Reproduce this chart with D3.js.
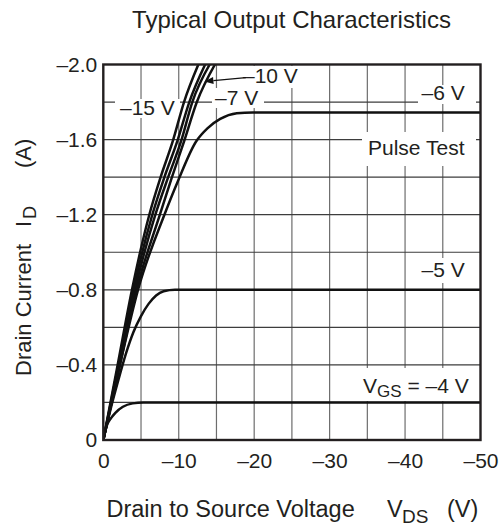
<!DOCTYPE html>
<html><head><meta charset="utf-8">
<script src="https://cdn.jsdelivr.net/npm/d3@7/dist/d3.min.js"></script>
<style>
html,body{margin:0;padding:0;background:#fff;}
svg{display:block;font-family:"Liberation Sans",Arial,Helvetica,sans-serif;}
</style></head>
<body><svg id="c" width="501" height="526"></svg>
<script>
// ---- data ----
const vdsTicks = [0, -10, -20, -30, -40, -50];
const vdsTickLabels = ["0", "–10", "–20", "–30", "–40", "–50"];
const idTicks = [0, -0.4, -0.8, -1.2, -1.6, -2.0];
const idTickLabels = ["0", "–0.4", "–0.8", "–1.2", "–1.6", "–2.0"];
const vdsGrid = [-5, -10, -15, -20, -25, -30, -35, -40, -45];
const idGrid = [-0.2, -0.4, -0.6, -0.8, -1.0, -1.2, -1.4, -1.6, -1.8];

// steep (ohmic) curves share these current points
const steepId = [0, -0.4, -0.8, -1.2, -1.4, -1.59, -1.8, -2.0];
const vdsVgs15 = [0, -1.9, -3.8, -6.1, -7.6, -9.2, -10.7, -12.6];
const vdsVgsB = [0, -2.0, -4.0, -6.5, -8.1, -9.8, -11.4, -13.5];
const vdsVgs10 = [0, -2.1, -4.2, -6.9, -8.6, -10.3, -11.8, -14.1];
const vdsVgs7 = [0, -2.2, -4.4, -7.5, -9.1, -10.7, -12.4, -14.8];

const vdsVgs6 = [0, -2.2, -4.6, -8.1, -9.9, -12.3, -13.8, -15.5, -17.7, -19.8, -50];
const idVgs6 = [0, -0.4, -0.8, -1.2, -1.38, -1.59, -1.66, -1.71, -1.74, -1.745, -1.745];

const vdsVgs5 = [0, -1, -2, -3, -4, -5, -6, -7, -8, -9.5, -50];
const idVgs5 = [0, -0.17, -0.32, -0.46, -0.575, -0.66, -0.725, -0.77, -0.792, -0.8, -0.8];

const vdsVgs4 = [0, -0.45, -1.0, -1.6, -2.6, -3.9, -5.3, -50];
const idVgs4 = [0, -0.075, -0.115, -0.145, -0.177, -0.195, -0.2, -0.2];

// ---- chart ----
const svg = d3.select("#c");
const L = 103.3, R = 480.5, T = 64.5, B = 440;
const x = d3.scaleLinear().domain([0, -50]).range([L, R]);
const y = d3.scaleLinear().domain([0, -2]).range([B, T]);
const ink = "#231f20";

svg.append("defs").append("clipPath").attr("id", "plot")
  .append("rect").attr("x", L).attr("y", T).attr("width", R - L).attr("height", B - T);

// grid
const g = svg.append("g");
g.selectAll(".vg").data(vdsGrid).join("line")
  .attr("x1", d => x(d)).attr("x2", d => x(d)).attr("y1", T).attr("y2", B)
  .attr("stroke", "#6d6d6d").attr("stroke-width", 1.2);
g.selectAll(".hg").data(idGrid).join("line")
  .attr("y1", d => y(d)).attr("y2", d => y(d)).attr("x1", L).attr("x2", R)
  .attr("stroke", "#3d3d3d").attr("stroke-width", 1.2);

// white label boxes (hide grid under annotations)
const boxes = [
  [115, 99, 65, 19], [212, 88, 52, 20], [241, 66, 64, 22],
  [418, 85, 58, 19], [362, 132, 114, 34], [418, 258, 58, 25], [358, 368, 118, 33]
];
svg.append("g").selectAll("rect").data(boxes).join("rect")
  .attr("x", d => d[0]).attr("y", d => d[1]).attr("width", d => d[2]).attr("height", d => d[3])
  .attr("fill", "#fff");

// curves
const line = d3.line().x(d => x(d[0])).y(d => y(d[1])).curve(d3.curveMonotoneX);
const curves = [
  d3.zip(vdsVgs15, steepId), d3.zip(vdsVgsB, steepId), d3.zip(vdsVgs10, steepId), d3.zip(vdsVgs7, steepId),
  d3.zip(vdsVgs6, idVgs6), d3.zip(vdsVgs5, idVgs5), d3.zip(vdsVgs4, idVgs4)
];
svg.append("g").attr("clip-path", "url(#plot)").selectAll("path").data(curves).join("path")
  .attr("d", line).attr("fill", "none").attr("stroke", "#111").attr("stroke-width", 2.5)
  .attr("stroke-linejoin", "round");

// border
svg.append("rect").attr("x", L).attr("y", T).attr("width", R - L).attr("height", B - T)
  .attr("fill", "none").attr("stroke", ink).attr("stroke-width", 2.4);

// axes (labels only)
const xa = svg.append("g").attr("transform", `translate(0,${B})`)
  .call(d3.axisBottom(x).tickValues(vdsTicks).tickSize(0).tickPadding(0)
    .tickFormat((d, i) => vdsTickLabels[i]));
xa.select(".domain").remove();
xa.selectAll("text").attr("y", 28).attr("dy", 0).attr("font-size", 21)
  .attr("fill", ink).attr("font-family", "Liberation Sans, Arial, sans-serif");

const ya = svg.append("g").attr("transform", `translate(${L},0)`)
  .call(d3.axisLeft(y).tickValues(idTicks).tickSize(0).tickPadding(6)
    .tickFormat((d, i) => idTickLabels[i]));
ya.select(".domain").remove();
ya.selectAll("text").attr("font-size", 21).attr("fill", ink)
  .attr("font-family", "Liberation Sans, Arial, sans-serif");

// title
svg.append("text").attr("x", 291.5).attr("y", 28).attr("text-anchor", "middle")
  .attr("font-size", 24).attr("fill", ink).text("Typical Output Characteristics");

// x axis title
const xt = svg.append("g").attr("fill", ink);
xt.append("text").attr("x", 106.5).attr("y", 517).attr("font-size", 23.5).text("Drain to Source Voltage");
xt.append("text").attr("x", 387).attr("y", 517).attr("font-size", 23.5).text("V");
xt.append("text").attr("x", 402).attr("y", 523).attr("font-size", 19).text("DS");
xt.append("text").attr("x", 447).attr("y", 517).attr("font-size", 23.5).text("(V)");

// y axis title
const yt = svg.append("g").attr("fill", ink);
yt.append("text").attr("transform", "translate(31,376) rotate(-90)").attr("font-size", 22).text("Drain Current");
yt.append("text").attr("transform", "translate(31,227) rotate(-90)").attr("font-size", 22).text("I");
yt.append("text").attr("transform", "translate(36,219) rotate(-90)").attr("font-size", 18).text("D");
yt.append("text").attr("transform", "translate(31,168) rotate(-90)").attr("font-size", 22).text("(A)");

// annotations
const ann = svg.append("g").attr("fill", ink).attr("font-size", 21);
ann.append("text").attr("x", 120).attr("y", 115).text("–15 V");
ann.append("text").attr("x", 215).attr("y", 105).text("–7 V");
ann.append("text").attr("x", 243).attr("y", 83).text("–10 V");
ann.append("text").attr("x", 421.5).attr("y", 100).text("–6 V");
ann.append("text").attr("x", 368).attr("y", 155).text("Pulse Test");
ann.append("text").attr("x", 421.5).attr("y", 277).text("–5 V");
const vgs = ann.append("text").attr("x", 363).attr("y", 393);
vgs.append("tspan").text("V");
vgs.append("tspan").attr("font-size", 17).attr("dy", 4).text("GS");
vgs.append("tspan").attr("dy", -4).text(" = –4 V");

// arrow for -10 V
const a0 = [x(-18.9), y(-1.93)], a1 = [x(-13.4), y(-1.91)];
const ang = Math.atan2(a1[1] - a0[1], a1[0] - a0[0]);
const hl = 9, hw = 3.5;
const bx = a1[0] - hl * Math.cos(ang), by = a1[1] - hl * Math.sin(ang);
svg.append("line").attr("x1", a0[0]).attr("y1", a0[1]).attr("x2", bx).attr("y2", by)
  .attr("stroke", "#111").attr("stroke-width", 1.4);
svg.append("path").attr("fill", "#111").attr("d",
  `M${a1[0]},${a1[1]}L${bx + hw * Math.sin(ang)},${by - hw * Math.cos(ang)}L${bx - hw * Math.sin(ang)},${by + hw * Math.cos(ang)}Z`);
</script></body></html>
